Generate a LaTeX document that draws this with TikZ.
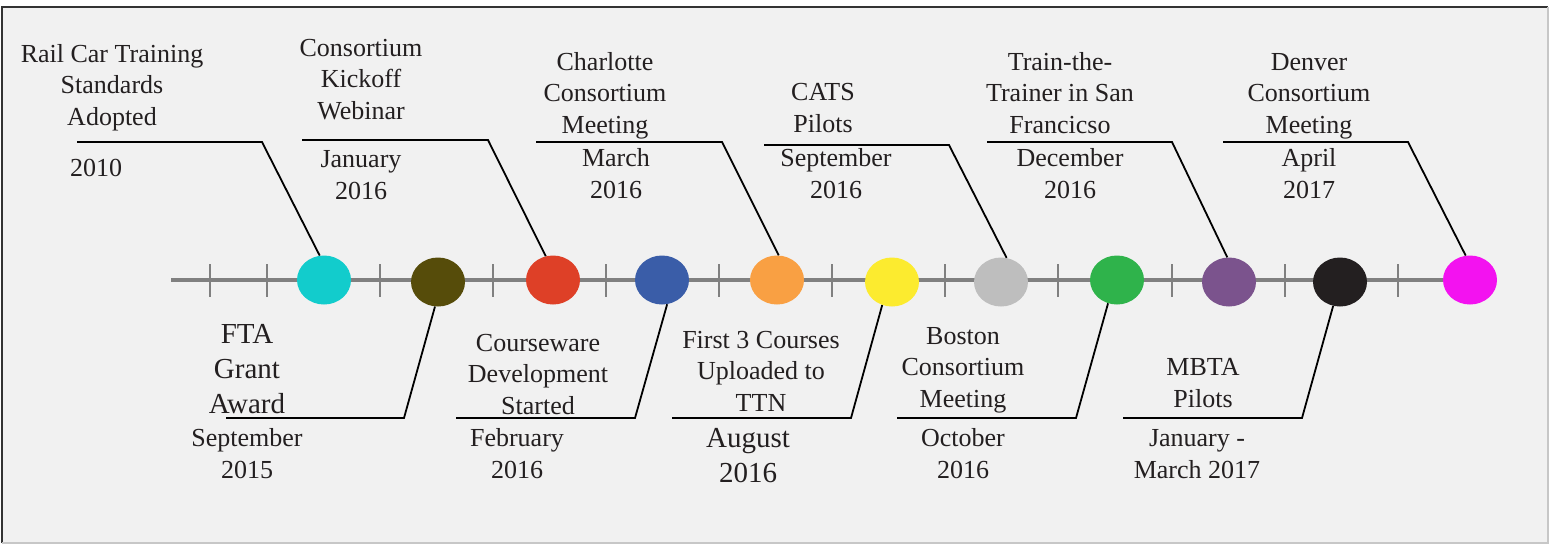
\documentclass[tikz,border=0pt]{standalone}
\usepackage{fontspec}
\setmainfont{Liberation Serif}
\usetikzlibrary{shapes.geometric}

\definecolor{txt}{HTML}{231F20}
\definecolor{bgfill}{HTML}{F1F1F1}
\definecolor{axisgray}{HTML}{808080}
\definecolor{cCyan}{HTML}{12CCCC}
\definecolor{cOlive}{HTML}{564C0A}
\definecolor{cRed}{HTML}{DE4027}
\definecolor{cBlue}{HTML}{3A5DA8}
\definecolor{cOrange}{HTML}{F9A043}
\definecolor{cYellow}{HTML}{FCEB2F}
\definecolor{cGray}{HTML}{BEBEBE}
\definecolor{cGreen}{HTML}{2FB34B}
\definecolor{cPurple}{HTML}{7B538D}
\definecolor{cBlack}{HTML}{231F20}
\definecolor{cPink}{HTML}{F312F0}

\begin{document}
\begin{tikzpicture}[x=1pt,y=-1pt,
    lbl/.style={align=center,anchor=base,inner sep=0pt,text=txt,font=\fontsize{26}{31.5}\selectfont},
    bigger/.style={font=\fontsize{29}{35}\selectfont},
    dot/.style={ellipse,minimum width=54pt,minimum height=49pt,inner sep=0pt,draw=none},
    lead/.style={line width=1.8pt,black},
    tick/.style={line width=2.6pt,axisgray}]
    \useasboundingbox (0,0) rectangle (1549,544);
    \fill[bgfill] (2,7) rectangle (1548,543);
    \draw[line width=2pt,black!80] (2,543) -- (2,7) -- (1548,7);
    \draw[line width=1.5pt,black!22] (1548,7) -- (1548,543) -- (2,543);

    % the time axis
    \coordinate (ax0) at (171,280);
    \coordinate (ax1) at (1470,280);
    \draw[line width=4.5pt,axisgray] (ax0) -- (ax1);
    \foreach \t in {210,267,380,493,606,719,832,945,1058,1172,1285,1398}
        \draw[tick] (\t,264) -- (\t,297);

    \foreach \n/\x/\y/\c in {1/324/280/cCyan,2/438/282/cOlive,3/553/280/cRed,4/662/280/cBlue,
        5/777/280/cOrange,6/892/282/cYellow,7/1001/282/cGray,8/1117/280/cGreen,
        9/1229/282/cPurple,10/1340/282/cBlack,11/1470/280/cPink}
        \node[dot,fill=\c] (e\n) at (\x,\y) {};

    % leaders: start, knee, angle on the dot
    \foreach \n/\xa/\xb/\y/\a in {1/77/262/142/100,3/302/488/140/107,5/536/722/142/86,
        7/764/949/145/77,9/987/1172/142/94,11/1223/1408/142/100,
        2/226/404/418/263,4/456/635/418/282,6/672/851/418/247,8/897/1076/418/249,10/1123/1302/418/254}
    {
        \coordinate (a\n) at (\xa,\y);
        \coordinate (k\n) at (\xb,\y);
        \draw[lead] (a\n) -- (k\n) -- (e\n.\a);
    }

    % above the axis (y = baseline of last line)
    \node[lbl] (t1) at (112,125) {Rail Car Training\\Standards\\Adopted};
    \node[lbl] (d1) at (96,176) {2010};
    \node[lbl] (t3) at (361,119) {Consortium\\Kickoff\\Webinar};
    \node[lbl] (d3) at (361,199) {January\\2016};
    \node[lbl] (t5) at (605,133) {Charlotte\\Consortium\\Meeting};
    \node[lbl] (d5) at (616,198) {March\\2016};
    \node[lbl] (t7) at (823,132) {CATS\\Pilots};
    \node[lbl] (d7) at (836,198) {September\\2016};
    \node[lbl] (t9) at (1060,133) {Train-the-\\Trainer in San\\Francicso};
    \node[lbl] (d9) at (1070,198) {December\\2016};
    \node[lbl] (t11) at (1309,133) {Denver\\Consortium\\Meeting};
    \node[lbl] (d11) at (1309,198) {April\\2017};

    % below the axis
    \node[lbl,bigger] (t2) at (247,413) {FTA\\Grant\\Award};
    \node[lbl] (d2) at (247,478) {September\\2015};
    \node[lbl] (t4) at (538,414) {Courseware\\Development\\Started};
    \node[lbl] (d4) at (517,478) {February\\2016};
    \node[lbl] (t6) at (761,411) {First 3 Courses\\Uploaded to\\TTN};
    \node[lbl,bigger] (d6) at (748,482) {August\\2016};
    \node[lbl] (t8) at (963,407) {Boston\\Consortium\\Meeting};
    \node[lbl] (d8) at (963,478) {October\\2016};
    \node[lbl] (t10) at (1203,407) {MBTA\\Pilots};
    \node[lbl] (d10) at (1197,478) {January -\\March 2017};
\end{tikzpicture}
\end{document}
